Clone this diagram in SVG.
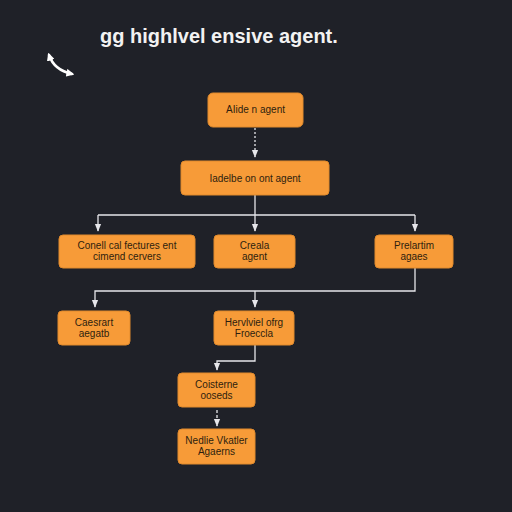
<svg xmlns="http://www.w3.org/2000/svg" width="512" height="512" viewBox="0 0 512 512">
<defs>
<style>
.box{fill:#f79b38;stroke:#e08a2c;stroke-width:1}
.t{font-family:"Liberation Sans",Arial,sans-serif;font-size:10px;fill:#2e1e0e;text-anchor:middle}
.c{fill:none;stroke:#e6e6ea;stroke-width:1.3}
.title{font-family:"Liberation Sans",Arial,sans-serif;font-size:20px;font-weight:bold;fill:#f2f2f2}
</style>
<marker id="ah" viewBox="0 0 10 10" refX="9" refY="5" markerWidth="6" markerHeight="6" orient="auto-start-reverse">
<path d="M0,1 L10,5 L0,9 z" fill="#e6e6ea"/>
</marker>
<marker id="wh" viewBox="0 0 10 10" refX="7" refY="5" markerWidth="3.2" markerHeight="3.2" orient="auto-start-reverse">
<path d="M0,0 L10,5 L0,10 z" fill="#ffffff"/>
</marker>
</defs>
<rect width="512" height="512" fill="#1f2128"/>
<text class="title" x="100" y="43">gg highlvel ensive agent.</text>
<path d="M49,55 Q54,70 72,74" fill="none" stroke="#ffffff" stroke-width="2.5" stroke-linecap="round" marker-start="url(#wh)" marker-end="url(#wh)"/>
<g id="connectors">
<path class="c" d="M255,128 V157" stroke-dasharray="2,2" marker-end="url(#ah)"/>
<path class="c" d="M255,195 V231"  marker-end="url(#ah)"/>
<path class="c" d="M98,215 H415"/>
<path class="c" d="M98,215 V231" marker-end="url(#ah)"/>
<path class="c" d="M415,215 V231" marker-end="url(#ah)"/>
<path class="c" d="M415,268 V291 H95 V307" marker-end="url(#ah)"/>
<path class="c" d="M255,291 V307" marker-end="url(#ah)"/>
<path class="c" d="M255,345 V361 H217 V370" marker-end="url(#ah)"/>
<path class="c" d="M217,410 V426" stroke-dasharray="3,2" marker-end="url(#ah)"/>
</g>
<g id="n1"><rect class="box" x="208" y="93" width="95" height="34" rx="5"/><text class="t" x="255.5" y="113">AIide n agent</text></g>
<g id="n2"><rect class="box" x="181" y="161" width="148" height="34" rx="4"/><text class="t" x="255" y="182">Iadelbe on ont agent</text></g>
<g id="n3"><rect class="box" x="59" y="235" width="136" height="33" rx="4"/><text class="t" x="127" y="249">Conell cal fectures ent</text><text class="t" x="127" y="260">cimend cervers</text></g>
<g id="n4"><rect class="box" x="214" y="235" width="81" height="33" rx="4"/><text class="t" x="254.5" y="249">Creala</text><text class="t" x="254.5" y="260">agent</text></g>
<g id="n5"><rect class="box" x="375" y="235" width="78" height="33" rx="4"/><text class="t" x="414" y="249">Prelartim</text><text class="t" x="414" y="260">agaes</text></g>
<g id="n6"><rect class="box" x="58" y="311" width="72" height="34" rx="4"/><text class="t" x="94" y="326">Caesrart</text><text class="t" x="94" y="337">aegatb</text></g>
<g id="n7"><rect class="box" x="214" y="311" width="80" height="34" rx="4"/><text class="t" x="254" y="326">Hervlviel ofrg</text><text class="t" x="254" y="337">Froeccla</text></g>
<g id="n8"><rect class="box" x="178" y="373" width="77" height="34" rx="4"/><text class="t" x="216.5" y="388">Coisterne</text><text class="t" x="216.5" y="399">ooseds</text></g>
<g id="n9"><rect class="box" x="178" y="429" width="77" height="35" rx="4"/><text class="t" x="216.5" y="444">Nedlie Vkatler</text><text class="t" x="216.5" y="455">Agaerns</text></g>
</svg>
